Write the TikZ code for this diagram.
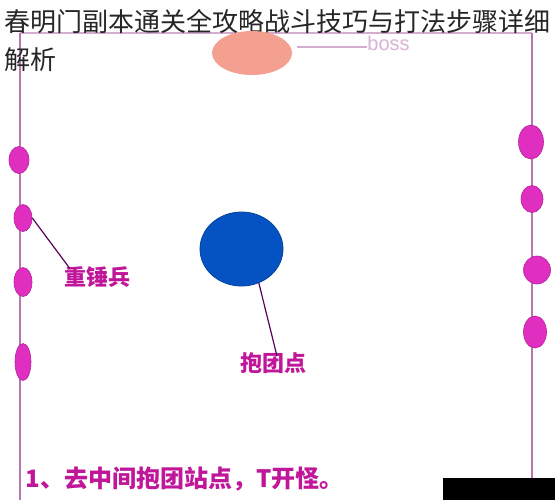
\documentclass[tikz,border=0pt]{standalone}
\usepackage{fontspec}
\usepackage{xcolor}
\usepackage{tikz}
\usetikzlibrary{shapes.geometric}
\setsansfont{Liberation Sans}
\newfontfamily\cjk{Noto Sans CJK SC}
\definecolor{mobpink}{HTML}{E02EC0}
\definecolor{wallpink}{HTML}{B877B0}
\definecolor{tagpink}{HTML}{C0169A}
\definecolor{bossred}{HTML}{F4A090}
\definecolor{gatherblue}{HTML}{0552C2}

\begin{document}
\begin{tikzpicture}[x=0.5pt, y=-0.5pt,
  every node/.style={inner sep=0pt},
  mob/.style={draw=mobpink!80!black, line width=0.3pt, fill=mobpink, ellipse},
  wall/.style={draw=wallpink, line width=1pt},
  tag/.style={text=tagpink, font=\cjk\bfseries\fontsize{11pt}{13pt}\selectfont},
  title/.style={anchor=west, text=black!85, font=\cjk\fontsize{13pt}{15pt}\selectfont}
]
\useasboundingbox (0,0) rectangle (555,500);
\fill[white] (0,0) rectangle (555,500);

% frame of the room
\coordinate (tl) at (20,33);
\coordinate (tr) at (532,33);
\coordinate (bl) at (20,500);
\coordinate (br) at (532,478);
\draw[draw=wallpink!60, line width=0.8pt] (tl) -- (tr);
\draw[wall] (tl) -- (bl);
\draw[wall] (tr) -- (br);

% heading
\node[title] (head1) at (4,22) {春明门副本通关全攻略战斗技巧与打法步骤详细};
\node[title] (head2) at (4,60) {解析};

% boss
\node[ellipse, fill=bossred, minimum width=40pt, minimum height=22pt] (boss) at (252,53) {};
\node[anchor=west, text=wallpink!55, font=\sffamily\fontsize{10pt}{12pt}\selectfont] (bosstag) at (367,43) {boss};
\draw[draw=wallpink!60, line width=0.8pt] ([xshift=2.5pt,yshift=3pt]boss.east) -- ([yshift=-2pt]bosstag.west);

% mobs on the left wall
\node[mob, minimum width=10pt, minimum height=13.5pt] (l1) at (19,160) {};
\node[mob, minimum width=9pt, minimum height=13.5pt] (l2) at (23,218) {};
\node[mob, minimum width=9pt, minimum height=14.5pt] (l3) at (23,282) {};
\node[mob, minimum width=8pt, minimum height=18.5pt] (l4) at (23,362) {};

% mobs on the right wall
\node[mob, minimum width=12.5pt, minimum height=17pt] (r1) at (531,142) {};
\node[mob, minimum width=11pt, minimum height=13.5pt] (r2) at (532,199) {};
\node[mob, minimum width=13.5pt, minimum height=14pt] (r3) at (537,270) {};
\node[mob, minimum width=11.5pt, minimum height=16pt] (r4) at (535,332) {};

% gathering point
\node[ellipse, draw=gatherblue!80!black, fill=gatherblue, minimum width=41.5pt, minimum height=37pt] (gather) at (241.5,249) {};

% labels
\node[tag] (hammer) at (97,277) {重锤兵};
\draw[draw=violet!70!black, line width=0.6pt] (l2.east) -- ([xshift=3pt,yshift=-1pt]hammer.north west);
\node[tag] (spot) at (273,363) {抱团点};
\draw[draw=violet!70!black, line width=0.6pt] (gather.-63) -- ([xshift=2pt,yshift=-2pt]spot.north);

% step text
\node[tag, anchor=west, font=\cjk\bfseries\fontsize{12pt}{14pt}\selectfont] (step1) at (25,479) {1、去中间抱团站点，T开怪。};

% corner patch
\fill[black] (443,478) rectangle (555,500);
\end{tikzpicture}
\end{document}
